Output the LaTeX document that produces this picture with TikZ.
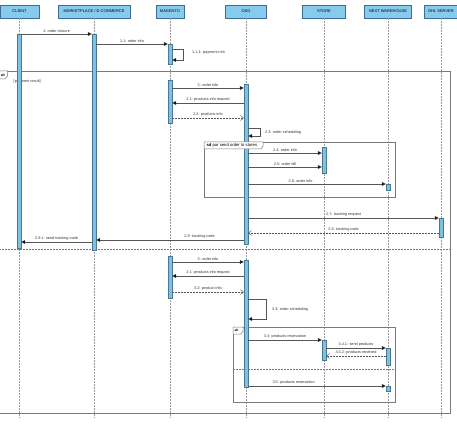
\documentclass[tikz,border=0pt]{standalone}
\usepackage{fontspec}
\setmainfont{Liberation Sans}
\usetikzlibrary{arrows.meta,calc}
\definecolor{headfill}{HTML}{86CBEE}
\definecolor{headline}{HTML}{3F6E8C}
\definecolor{actfill}{HTML}{7DC2E4}
\definecolor{actline}{HTML}{4A7890}
\definecolor{msgline}{HTML}{555555}
\definecolor{frameline}{HTML}{7A7A7A}
\tikzset{
  head/.style={draw=headline, fill=headfill, line width=0.5pt, minimum height=13pt, inner sep=0pt, font=\fontsize{4}{5}\selectfont},
  act/.style={draw=actline, fill=actfill, line width=0.4pt, minimum width=4pt, inner sep=0pt},
  life/.style={draw=gray!80, line width=0.4pt, dash pattern=on 2pt off 1pt},
  msg/.style={draw=msgline, line width=0.45pt, -{Triangle[length=4pt,width=4pt,fill=black]}},
  ret/.style={draw=msgline, line width=0.45pt, dash pattern=on 2pt off 1pt, -{Straight Barb[length=3pt,width=5pt]}},
  lbl/.style={font=\fontsize{3.8}{4.5}\selectfont, above, inner sep=1pt, text=black!80},
  slbl/.style={font=\fontsize{3.8}{4.5}\selectfont, anchor=west, inner sep=1pt, text=black!80},
  frame/.style={draw=frameline, line width=0.5pt},
  sep/.style={draw=frameline, line width=0.5pt, dash pattern=on 2pt off 1pt},
  tabtxt/.style={font=\fontsize{4.2}{4.6}\selectfont, anchor=west, inner sep=0.3pt}
}
\begin{document}
\begin{tikzpicture}[x=1pt,y=-1pt]
\useasboundingbox (0,0) rectangle (457,427);
\clip (0,0) rectangle (457,427);
\fill[white] (0,0) rectangle (457,427);
% heads
\node[head, minimum width=39pt] (hC) at (19.5,11.5) {CLIENT};
\node[head, minimum width=72pt] (hM) at (94,11.5) {MARKETPLACE / E-COMMERCE};
\node[head, minimum width=28pt] (hG) at (170,11.5) {MAGENTO};
\node[head, minimum width=41pt] (hO) at (246,11.5) {OSG};
\node[head, minimum width=43pt] (hS) at (324,11.5) {STORE};
\node[head, minimum width=47pt] (hW) at (388,11.5) {NEXT WAREHOUSE};
\node[head, minimum width=34pt] (hD) at (441,11.5) {DHL SERVER};
% lifelines
\coordinate (eC) at (19,418);
\coordinate (eM) at (94,418);
\coordinate (eG) at (170,418);
\coordinate (eO) at (246,418);
\coordinate (eS) at (324,418);
\coordinate (eW) at (388,418);
\coordinate (eD) at (441,418);
\draw[life] (hC.south -| eC) -- (eC);
\draw[life] (hM.south) -- (eM);
\draw[life] (hG.south) -- (eG);
\draw[life] (hO.south) -- (eO);
\draw[life] (hS.south) -- (eS);
\draw[life] (hW.south) -- (eW);
\draw[life] (hD.south) -- (eD);
% outer alt frame
\draw[frame] (-1,71) rectangle (450,413);
\draw[frame, fill=white] (-1,71) -- (7.5,71) -- (7.5,76) -- (5,79) -- (-1,79) -- cycle;
\node[tabtxt, font=\fontsize{3.5}{4}\selectfont\bfseries] (altA) at (0.3,75) {alt};
\node[slbl] (guard) at (12.5,82) {[payment result]};
\draw[sep] (-1,249) -- (450,249);
% par frame
\draw[frame] (204,142) rectangle (395,197);
% inner alt frame
\draw[frame] (233,327) rectangle (395,402);
\draw[sep] (233,369) -- (395,369);
% activations
\node[act, minimum height=214pt] (aC) at (19,141) {};
\node[act, minimum height=216pt] (aM) at (94,142) {};
\node[act, minimum height=20pt] (aG1) at (170,54) {};
\node[act, minimum height=43pt] (aG2) at (170,101.5) {};
\node[act, minimum height=42pt] (aG3) at (170,277) {};
\node[act, minimum height=160pt] (aO1) at (246,164) {};
\node[act, minimum height=127pt] (aO2) at (246,323.5) {};
\node[act, minimum height=26pt] (aS1) at (324,160) {};
\node[act, minimum height=20pt] (aS2) at (324,350) {};
\node[act, minimum height=6pt] (aW1) at (388,187) {};
\node[act, minimum height=17pt] (aW2) at (388,356.5) {};
\node[act, minimum height=5pt] (aW3) at (388,388.5) {};
\node[act, minimum height=19pt] (aD) at (441,227.5) {};
% frame tabs on top of activations
\draw[frame, fill=white] (204,142) -- (263,142) -- (263,146) -- (261,149) -- (204,149) -- cycle;
\node[tabtxt] (parT) at (206,145.6) {\textbf{sd} par send order to stores};
\draw[frame, fill=white] (233,327) -- (243,327) -- (243,331) -- (241,334) -- (233,334) -- cycle;
\node[tabtxt, font=\fontsize{3.3}{4}\selectfont\bfseries] (altB) at (234,330.5) {alt};
% messages
\draw[msg] (aC.east |- 0,34) -- node[lbl]{1: order closure} (aM.west |- 0,34);
\draw[msg] (aM.east |- 0,44) -- node[lbl]{1.1: order info} (aG1.west |- 0,44);
\draw[msg] (aG1.east |- 0,49) -- (183,49) -- (183,60) -- (aG1.east |- 0,60);
\node[slbl] (l111) at (191,53) {1.1.1: payment info};
\draw[msg] (aG2.east |- 0,88) -- node[lbl]{2: order info} (aO1.west |- 0,88);
\draw[msg] (aO1.west |- 0,103) -- node[lbl]{2.1: products  info request} (aG2.east |- 0,103);
\draw[ret] (aG2.east |- 0,118) -- node[lbl]{2.2: products  info} (aO1.west |- 0,118);
\draw[msg] (aO1.east |- 0,128) -- (260,128) -- (260,136) -- (aO1.east |- 0,136);
\node[slbl] (l23) at (264,133) {2.3: order scheduling};
\draw[msg] (aO1.east |- 0,153) -- node[lbl]{2.4: order info} (aS1.west |- 0,153);
\draw[msg] (aO1.east |- 0,167) -- node[lbl]{2.5: order bill} (aS1.west |- 0,167);
\draw[msg] (aO1.east |- 0,184) -- node[lbl, pos=0.38]{2.6: order info} (aW1.west |- 0,184);
\draw[msg] (aO1.east |- 0,218) -- node[lbl]{2.7: tracking request} (aD.west |- 0,218);
\draw[ret] (aD.west |- 0,233) -- node[lbl]{2.8: tracking code} (aO1.east |- 0,233);
\draw[msg] (aO1.west |- 0,240) -- node[lbl, pos=0.3]{2.9: tracking code} (aM.east |- 0,240);
\draw[msg] (aM.west |- 0,242) -- node[lbl]{2.9.1: send tracking code} (aC.east |- 0,242);
\draw[msg] (aG3.east |- 0,262) -- node[lbl]{3: order info} (aO2.west |- 0,262);
\draw[msg] (aO2.west |- 0,276) -- node[lbl]{3.1: products info request} (aG3.east |- 0,276);
\draw[ret] (aG3.east |- 0,292) -- node[lbl]{3.2: product info} (aO2.west |- 0,292);
\draw[msg] (aO2.east |- 0,299) -- (266,299) -- (266,319) -- (aO2.east |- 0,319);
\node[slbl] (l33) at (271,310) {3.3: order scheduling};
\draw[msg] (aO2.east |- 0,340) -- node[lbl]{3.4: products reservation} (aS2.west |- 0,340);
\draw[msg] (aS2.east |- 0,348) -- node[lbl]{3.4.1: send products} (aW2.west |- 0,348);
\draw[ret] (aW2.west |- 0,356) -- node[lbl]{3.4.2: products received} (aS2.east |- 0,356);
\draw[msg] (aO2.east |- 0,386) -- node[lbl, pos=0.33]{3.5: products reservation} (aW3.west |- 0,386);
\end{tikzpicture}
\end{document}
